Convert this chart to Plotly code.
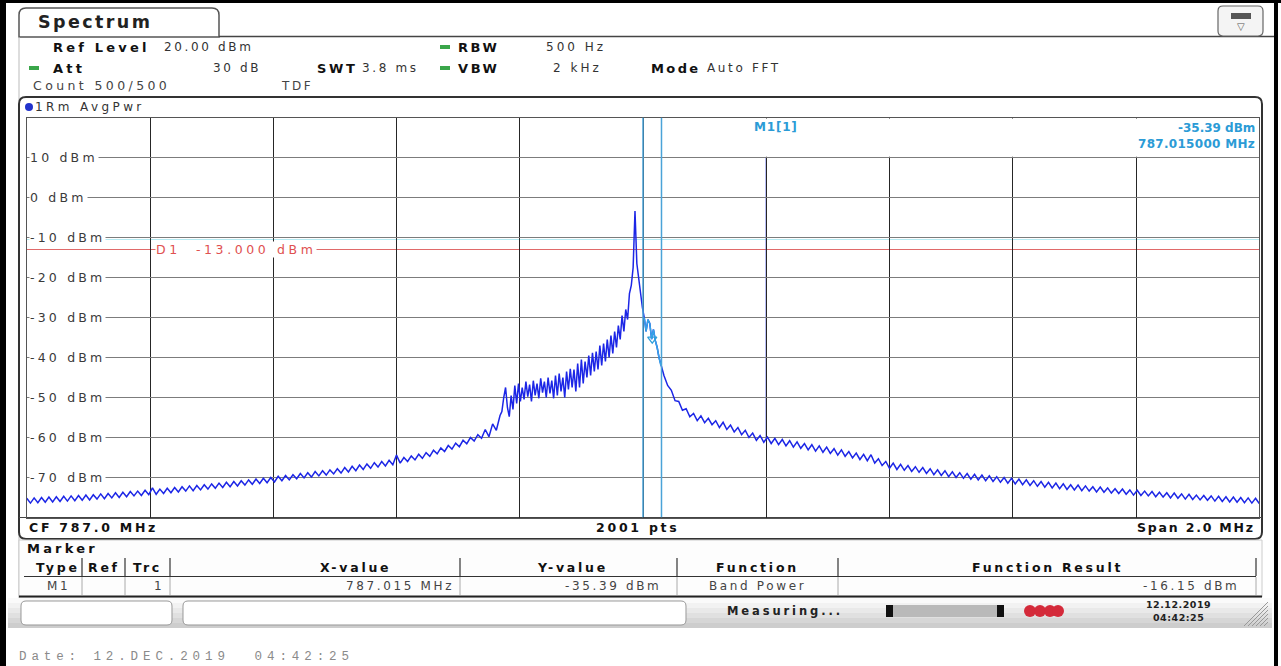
import numpy as np
import plotly.graph_objects as go

W, H = 1281, 666

# ---------------- data ----------------
start_mhz = 786.0
stop_mhz = 788.0
ref_level_dbm = 20.0
bottom_dbm = -80.0
display_line_dbm = -13.0
marker_freq_mhz = 787.015
marker_level_dbm = -35.39
band_start_mhz = 787.000
band_stop_mhz = 787.030
spike_freq_mhz = 787.2
y_ticks = [10, 0, -10, -20, -30, -40, -50, -60, -70]
y_tick_labels = ["10 dBm", "0 dBm", "-10 dBm", "-20 dBm", "-30 dBm",
                 "-40 dBm", "-50 dBm", "-60 dBm", "-70 dBm"]

# left skirt: sweep points from 786.000 MHz every 6 kHz
left_start, left_step = 786.000, 0.006
left_levels = [
    -75.2, -76.4, -75.1, -76.3, -75.0, -76.2, -74.9, -76.1, -74.8, -76.0,
    -74.7, -75.9, -74.6, -75.8, -74.5, -75.7, -74.4, -75.6, -74.3, -75.4,
    -74.1, -75.3, -74.0, -75.1, -73.8, -75.0, -73.7, -74.8, -73.5, -74.6,
    -73.4, -74.5, -73.2, -74.3, -72.6, -74.2, -72.9, -74.0, -72.7, -73.8,
    -72.5, -73.6, -72.3, -73.4, -72.1, -73.3, -72.0, -73.1, -71.8, -72.9,
    -71.6, -72.7, -71.4, -72.5, -71.2, -72.3, -71.0, -72.1, -70.8, -71.9,
    -70.6, -71.7, -70.4, -71.5, -70.2, -71.3, -70.0, -71.1, -69.7, -70.8,
    -69.5, -70.6, -69.3, -70.3, -69.0, -70.1, -68.8, -69.9, -68.5, -69.6,
    -68.3, -69.4, -68.1, -69.1, -67.8, -68.9, -67.5, -68.6, -67.2, -68.3,
    -66.9, -68.0, -66.6, -67.7, -66.3, -67.4, -66.0, -67.1, -65.7, -66.8,
    -64.4, -66.4, -65.0, -66.0, -64.6, -65.6, -64.2, -65.2, -63.8, -64.7,
    -63.2, -64.1, -62.6, -63.5, -62.0, -62.9, -61.4, -62.3, -60.7, -61.6,
    -60.0, -60.9, -59.3, -60.2, -58.0, -59.8, -56.6, -58.2, -54.5,
]

# modulated hump + carrier: from 786.771 MHz every 3 kHz
hump_start, hump_step = 786.771, 0.003
hump_levels = [
    -53.5, -50.0, -47.5, -52.5, -54.8, -49.5, -53.0, -47.0, -51.5, -46.5,
    -51.0, -47.5, -50.5, -46.0, -49.8, -46.8, -51.0, -45.8, -49.5, -46.5,
    -50.2, -45.2, -48.8, -46.0, -50.0, -45.0, -49.0, -45.8, -50.2, -44.5,
    -49.5, -44.0, -48.5, -45.0, -50.0, -43.5, -48.0, -42.8, -47.5, -43.0,
    -48.5, -41.5, -47.5, -40.5, -46.5, -41.0, -45.0, -39.5, -44.5, -38.8,
    -43.5, -38.5, -43.0, -37.0, -42.0, -36.5, -41.0, -35.5, -40.0, -34.5,
    -39.0, -33.5, -37.5, -32.0, -35.5, -29.5, -33.5, -28.0, -30.5, -24.0,
    -22.0, -17.5, -3.4, -16.5, -20.5, -23.0, -27.5, -30.0, -33.5, -30.5,
    -31.5, -35.4, -33.0, -35.8, -37.5, -40.0, -42.0,
]

# right skirt: from 787.034 MHz every 6 kHz
right_start, right_step = 787.034, 0.006
right_levels = [
    -44.5, -47.0, -48.2, -50.8, -51.0, -53.2, -52.8, -54.8, -54.0, -55.8,
    -54.6, -56.3, -55.2, -56.8, -55.8, -57.5, -56.2, -58.0, -56.9, -58.6,
    -57.5, -59.3, -58.2, -60.0, -58.9, -60.7, -59.5, -61.2, -59.9, -61.5,
    -60.2, -61.8, -60.5, -62.1, -60.8, -62.4, -61.1, -62.7, -61.5, -63.1,
    -61.8, -63.4, -62.1, -63.7, -62.4, -64.0, -62.8, -64.4, -63.1, -64.7,
    -63.5, -65.1, -63.9, -65.5, -64.2, -65.8, -64.3, -66.4, -65.3, -67.0,
    -66.0, -67.7, -66.4, -68.0, -66.7, -68.2, -67.0, -68.5, -67.3, -68.7,
    -67.5, -69.0, -67.8, -69.3, -68.1, -69.5, -68.3, -69.8, -68.6, -70.0,
    -68.8, -70.2, -69.0, -70.4, -69.2, -70.6, -69.4, -70.8, -69.6, -71.0,
    -69.8, -71.2, -70.0, -71.4, -70.2, -71.6, -70.4, -71.8, -70.6, -72.0,
    -70.8, -72.2, -71.0, -72.4, -71.2, -72.6, -71.4, -72.8, -71.6, -73.0,
    -71.8, -73.1, -71.9, -73.3, -72.1, -73.4, -72.3, -73.6, -72.4, -73.7,
    -72.6, -73.9, -72.8, -74.0, -72.9, -74.2, -73.1, -74.4, -73.2, -74.5,
    -73.4, -74.6, -73.5, -74.8, -73.7, -74.9, -73.8, -75.1, -73.9, -75.2,
    -74.1, -75.4, -74.2, -75.5, -74.4, -75.6, -74.5, -75.7, -74.6, -75.9,
    -74.7, -76.0, -74.8, -76.1, -74.9, -76.2, -75.0, -76.3, -75.1, -76.4,
    -75.2, -76.5,
]

# marker table
table_headers = ["Type", "Ref", "Trc", "X-value", "Y-value", "Function", "Function Result"]
table_row = ["M1", "", "1", "787.015 MHz", "-35.39 dBm", "Band Power", "-16.15 dBm"]

# ---------------- build trace ----------------
def seg(start, step, levels):
    f = start + step * np.arange(len(levels))
    return f, np.array(levels, dtype=float)

f1, l1 = seg(left_start, left_step, left_levels)
f2, l2 = seg(hump_start, hump_step, hump_levels)
f3, l3 = seg(right_start, right_step, right_levels)
freq = np.concatenate([f1, f2, f3])
level = np.concatenate([l1, l2, l3])
band_mask = (freq >= band_start_mhz - 1e-9) & (freq <= band_stop_mhz + 1e-9)
spike_level = float(np.interp(spike_freq_mhz, freq, level))

# ---------------- pixel helpers ----------------
FONT = "DejaVu Sans"
def X(px):
    return px / W
def Y(py):
    return 1 - py / H

shapes = []
annotations = []

def rect(x0, y0, x1, y1, fill=None, line=None, lw=1, layer="below"):
    shapes.append(dict(type="rect", xref="paper", yref="paper",
                       x0=X(x0), x1=X(x1), y0=Y(y1), y1=Y(y0),
                       fillcolor=fill if fill else "rgba(0,0,0,0)",
                       line=dict(color=line if line else "rgba(0,0,0,0)", width=lw if line else 0),
                       layer=layer))

def hline(x0, x1, y, color, lw=1, layer="below"):
    shapes.append(dict(type="line", xref="paper", yref="paper",
                       x0=X(x0), x1=X(x1), y0=Y(y), y1=Y(y),
                       line=dict(color=color, width=lw), layer=layer))

def vline(x, y0, y1, color, lw=1, layer="below"):
    shapes.append(dict(type="line", xref="paper", yref="paper",
                       x0=X(x), x1=X(x), y0=Y(y0), y1=Y(y1),
                       line=dict(color=color, width=lw), layer=layer))

def rrect(x0, y0, x1, y1, r, fill=None, line="#444", lw=1, layer="below", top_only=False):
    def P(x, y):
        return f"{X(x):.6f},{Y(y):.6f}"
    rb = 0 if top_only else r
    p = (f"M{P(x0, y0 + r)} Q{P(x0, y0)} {P(x0 + r, y0)} L{P(x1 - r, y0)} "
         f"Q{P(x1, y0)} {P(x1, y0 + r)} L{P(x1, y1 - rb)} ")
    if rb:
        p += f"Q{P(x1, y1)} {P(x1 - rb, y1)} L{P(x0 + rb, y1)} Q{P(x0, y1)} {P(x0, y1 - rb)} Z"
    else:
        p += f"L{P(x0, y1)} Z"
    shapes.append(dict(type="path", xref="paper", yref="paper", path=p,
                       fillcolor=fill if fill else "rgba(0,0,0,0)",
                       line=dict(color=line, width=lw), layer=layer))

def txt(x, y, s, size=12, color="#222", bold=False, anchor="left", family=FONT, bg=None, ls=None):
    if ls is None:
        ls = round(0.22 * size, 2)
    body = f'<span style="letter-spacing:{ls}px">{s}</span>' if ls else s
    if bold:
        body = f"<b>{body}</b>"
    annotations.append(dict(x=X(x), y=Y(y), xref="paper", yref="paper",
                            text=body, showarrow=False,
                            xanchor=anchor, yanchor="middle",
                            font=dict(size=size, color=color, family=family),
                            bgcolor=bg, borderpad=0))

# ---------------- chrome ----------------
rect(0, 0, 6, H, fill="#000")
rect(0, 0, W, 3, fill="#000")
rect(1274, 0, 1278, H, fill="#000")

rrect(19, 8, 219, 37, 7, fill="#fff", line="#555", lw=1.5, top_only=True)
hline(219, 1274, 36.5, "#444", 1.5)
vline(19, 37, 598, "#bbb", 1)
txt(37, 22, "Spectrum", size=17.5, color="#222", bold=True, ls=2.4)
rrect(1218, 6, 1263, 36, 5, fill="#f4f4f4", line="#666", lw=1.2)
rect(1231, 13, 1251, 19, fill="#555")
txt(1241, 26, "▽", size=10, color="#555", anchor="center", ls=0)

green = "#3aa64a"
hline(29, 39, 68, green, 4)
hline(440, 450, 47, green, 4)
hline(440, 450, 68, green, 4)
txt(52, 47, "Ref Level", 13, "#111", True, ls=3.2)
txt(163, 47, "20.00 dBm", 12, "#333")
txt(52, 68, "Att", 13, "#111", True, ls=3.2)
txt(262, 68, "30 dB", 12, "#333", anchor="right")
txt(316, 68, "SWT", 13, "#111", True, ls=2.6)
txt(361, 68, "3.8 ms", 12, "#333")
txt(457, 47, "RBW", 13, "#111", True, ls=2.6)
txt(545, 47, "500 Hz", 12, "#333", ls=3.0)
txt(457, 68, "VBW", 13, "#111", True, ls=2.6)
txt(552, 68, "2 kHz", 12, "#333", ls=3.0)
txt(650, 68, "Mode", 13, "#111", True, ls=2.4)
txt(706, 68, "Auto FFT", 12, "#333")
txt(32, 86, "Count 500/500", 12.5, "#444", ls=3.4)
txt(280, 86, "TDF", 12, "#444")

# diagram frame
rrect(19, 97, 1262, 539, 7, fill="#fff", line="#333", lw=2)
shapes.append(dict(type="circle", xref="paper", yref="paper",
                   x0=X(25), x1=X(33), y0=Y(111), y1=Y(103),
                   fillcolor="#2233cc", line=dict(width=0), layer="below"))
txt(34, 107, "1Rm AvgPwr", 12, "#333", ls=3.4)
hline(19, 1262, 517.5, "#444", 1)
txt(28, 527, "CF 787.0 MHz", 12.5, "#111", True)
txt(638, 527, "2001 pts", 12.5, "#111", True, anchor="center")
txt(1256, 527, "Span 2.0 MHz", 12.5, "#111", True, anchor="right", ls=1.8)

# marker table
rect(19, 540, 1262, 597, fill="#fdfdfd", line="#ccc", lw=1)
txt(26, 548, "Marker", 13, "#111", True, ls=3.2)
hline(24, 1256, 576.5, "#333", 1.2)
hline(19, 1262, 596.5, "#222", 2)
col_seps = [82, 125, 170, 460, 677, 838, 1256]
for sx in col_seps:
    vline(sx, 558, 576, "#333", 1.2)
    vline(sx, 577, 595, "#aaa", 1)
hdr_x = [58, 104, 147, 356, 572, 757, 1047]
for hx, h in zip(hdr_x, table_headers):
    txt(hx, 567, h, 12.5, "#111", True, anchor="center")
row_x = [(58, "center"), (104, "center"), (165, "right"), (455, "right"),
         (662, "right"), (757, "center"), (1240, "right")]
for (rx, an), v in zip(row_x, table_row):
    if v:
        txt(rx, 586, v, 12, "#444", anchor=an)

# status bar
bands = ["#fafafa", "#f2f2f2", "#e9e9e9", "#e0e0e0", "#d6d6d6", "#cdcdcd"]
for i, c in enumerate(bands):
    rect(8, 598 + i * 5, 1272, 603 + i * 5, fill=c)
rrect(21, 601, 172, 625, 5, fill="#fff", line="#999", lw=1)
rrect(183, 601, 686, 625, 5, fill="#fff", line="#999", lw=1)
txt(726, 611, "Measuring...", 11.5, "#222", True, ls=2.9)
rect(886, 605, 1004, 617, fill="#b9b9b9")
rect(886, 605, 893, 617, fill="#111")
rect(997, 605, 1004, 617, fill="#111")
for cx in (1030, 1040, 1050, 1058):
    shapes.append(dict(type="circle", xref="paper", yref="paper",
                       x0=X(cx - 6), x1=X(cx + 6), y0=Y(617), y1=Y(605),
                       fillcolor="#d42a3a", line=dict(width=0), layer="below"))
txt(1178, 604, "12.12.2019", 9.5, "#222", True, anchor="center", ls=0.5)
txt(1178, 617, "04:42:25", 9.5, "#222", True, anchor="center", ls=0.5)
for k in range(6):
    shapes.append(dict(type="line", xref="paper", yref="paper",
                       x0=X(1244 + 4 * k), y0=Y(626), x1=X(1268), y1=Y(602 + 4 * k),
                       line=dict(color="#999", width=1), layer="below"))

txt(18, 657, "Date: 12.DEC.2019  04:42:25", 12.5, "#8a8a8a", family="Liberation Mono", ls=4.9)

# ---------------- plot area ----------------
X0, X1 = 26.75, 1259.25
Y0, Y1 = 117.5, 517.5

rect(663.5, 118.5, 1258.5, 156.8, fill="#fff", layer="above")
txt(776, 127, "M1[1]", 12, "#2b9bd6", True, anchor="center", ls=0.8)
txt(1256, 128, "-35.39 dBm", 12, "#2b9bd6", True, anchor="right", ls=0)
txt(1256, 144, "787.015000 MHz", 12, "#2b9bd6", True, anchor="right", ls=0.3)

shapes.append(dict(type="line", xref="x", yref="y", x0=start_mhz, x1=stop_mhz,
                   y0=-10.5, y1=-10.5, line=dict(color="#b5eaf2", width=1), layer="below"))
shapes.append(dict(type="line", xref="x", yref="y", x0=start_mhz, x1=stop_mhz,
                   y0=display_line_dbm, y1=display_line_dbm,
                   line=dict(color="#e06a6a", width=1), layer="below"))
txt(155, 250, "D1  -13.000 dBm", 12.5, "#e05050", anchor="left", bg="#fff", ls=3.6)

for bf in (band_start_mhz, band_stop_mhz):
    shapes.append(dict(type="line", xref="x", yref="y", x0=bf, x1=bf,
                       y0=bottom_dbm, y1=ref_level_dbm,
                       line=dict(color="#4aa3d8", width=1.5), layer="above"))
shapes.append(dict(type="line", xref="x", yref="y", x0=spike_freq_mhz, x1=spike_freq_mhz,
                   y0=spike_level, y1=10.2, line=dict(color="#3a46e0", width=1.2),
                   layer="below"))

for v, lab in zip(y_ticks, y_tick_labels):
    yp = Y0 + (ref_level_dbm - v) / (ref_level_dbm - bottom_dbm) * (Y1 - Y0)
    txt(29, yp, lab, 12.5, "#3a3a3a", bg="#fff", ls=3.2)

fig = go.Figure()
fig.add_trace(go.Scatter(x=freq, y=level, mode="lines",
                         line=dict(color="#1c26e6", width=1.5), hoverinfo="skip"))
fig.add_trace(go.Scatter(x=freq[band_mask], y=level[band_mask], mode="lines",
                         line=dict(color="#35a4e6", width=1.5), hoverinfo="skip"))
fig.add_trace(go.Scatter(x=[marker_freq_mhz], y=[marker_level_dbm], mode="markers",
                         marker=dict(symbol="triangle-down-open", size=8,
                                     color="#2fa0dc", line=dict(width=1.3)),
                         hoverinfo="skip"))

fig.update_layout(
    width=W, height=H, margin=dict(l=0, r=0, t=0, b=0),
    paper_bgcolor="#fff", plot_bgcolor="#fff", showlegend=False,
    shapes=shapes, annotations=annotations,
    xaxis=dict(domain=[X(X0), X(X1)], range=[start_mhz, stop_mhz],
               showgrid=True, dtick=0.2, tick0=start_mhz, gridcolor="#262626", gridwidth=1,
               showticklabels=False, ticks="", zeroline=False,
               showline=True, mirror=True, linecolor="#555", linewidth=1, fixedrange=True),
    yaxis=dict(domain=[Y(Y1), Y(Y0)], range=[bottom_dbm, ref_level_dbm],
               showgrid=True, dtick=10, tick0=bottom_dbm, gridcolor="#7c7c7c", gridwidth=1,
               showticklabels=False, ticks="", zeroline=False,
               showline=True, mirror=True, linecolor="#555", linewidth=1, fixedrange=True),
)

fig.write_html("out.html", include_plotlyjs=True, config={"displayModeBar": False},
               post_script="document.body.style.margin='0';document.body.style.overflow='hidden';")
